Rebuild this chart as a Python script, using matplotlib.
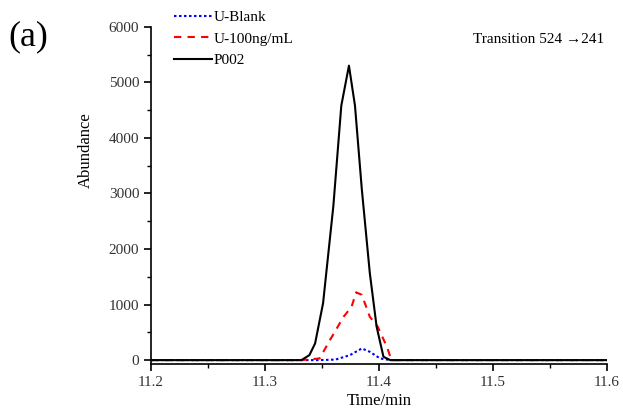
import numpy as np
import matplotlib.pyplot as plt

plt.rcParams['font.family'] = ['Liberation Serif', 'DejaVu Serif']

# time (min) and abundance
t_p002 = [11.2, 11.332, 11.339, 11.344, 11.351, 11.360, 11.367, 11.3737,
          11.379, 11.385, 11.392, 11.398, 11.404, 11.41, 11.6]
p002 = [0, 0, 90, 300, 1025, 2770, 4580, 5300,
        4580, 3075, 1570, 600, 60, 0, 0]

t_u100 = [11.2, 11.332, 11.348, 11.357, 11.369, 11.376, 11.380, 11.385,
          11.392, 11.399, 11.407, 11.411, 11.6]
u100 = [0, 0, 30, 360, 780, 960, 1220, 1175,
        780, 600, 240, 0, 0]

t_blank = [11.2, 11.332, 11.348, 11.362, 11.3746, 11.385, 11.392, 11.401, 11.41, 11.6]
blank = [0, 0, 0, 10, 90, 210, 150, 30, 0, 0]

fig = plt.figure(figsize=(6.23, 4.12), dpi=100)
ax = fig.add_axes([0.2424, 0.1165, 0.7316, 0.8185])

ax.plot(t_blank, blank, color='blue', linestyle=(0, (1.2, 1.2)), lw=1.5, label='U-Blank')
ax.plot(t_u100, u100, color='red', linestyle=(0, (3.5, 3)), lw=1.5, label='U-100ng/mL')
ax.plot(t_p002, p002, color='black', lw=1.5, label='P002')

ax.set_xlim(11.2, 11.6)
ax.set_ylim(-70, 6000)
ax.set_xticks([11.2, 11.3, 11.4, 11.5, 11.6])
ax.set_xticks(np.arange(11.25, 11.6, 0.1), minor=True)
ax.set_yticks(range(0, 6001, 1000))
ax.set_yticks(range(500, 6000, 1000), minor=True)

for s in ['top', 'right']:
    ax.spines[s].set_visible(False)
for s in ['left', 'bottom']:
    ax.spines[s].set_linewidth(1.2)
ax.tick_params(which='major', direction='out', length=5, width=1.2, labelsize=11,
               labelcolor='#333333')
ax.tick_params(which='minor', direction='out', length=3, width=1.0)

ax.set_xlabel('Time/min', fontsize=12, labelpad=3)
ax.set_ylabel('Abundance', fontsize=12)
ax.yaxis.set_label_coords(-0.125, 0.635)

fig.text(0.013, 0.89, '(a)', fontsize=26)
fig.text(0.76, 0.895, 'Transition 524 \u2192241', fontsize=11)

ax.legend(loc='upper left', bbox_to_anchor=(0.262, 1.0), bbox_transform=fig.transFigure,
          frameon=False, fontsize=11, handlelength=2.5, handletextpad=0.1,
          labelspacing=0.5, borderpad=0.2)

fig.savefig('out.png', dpi=100)
